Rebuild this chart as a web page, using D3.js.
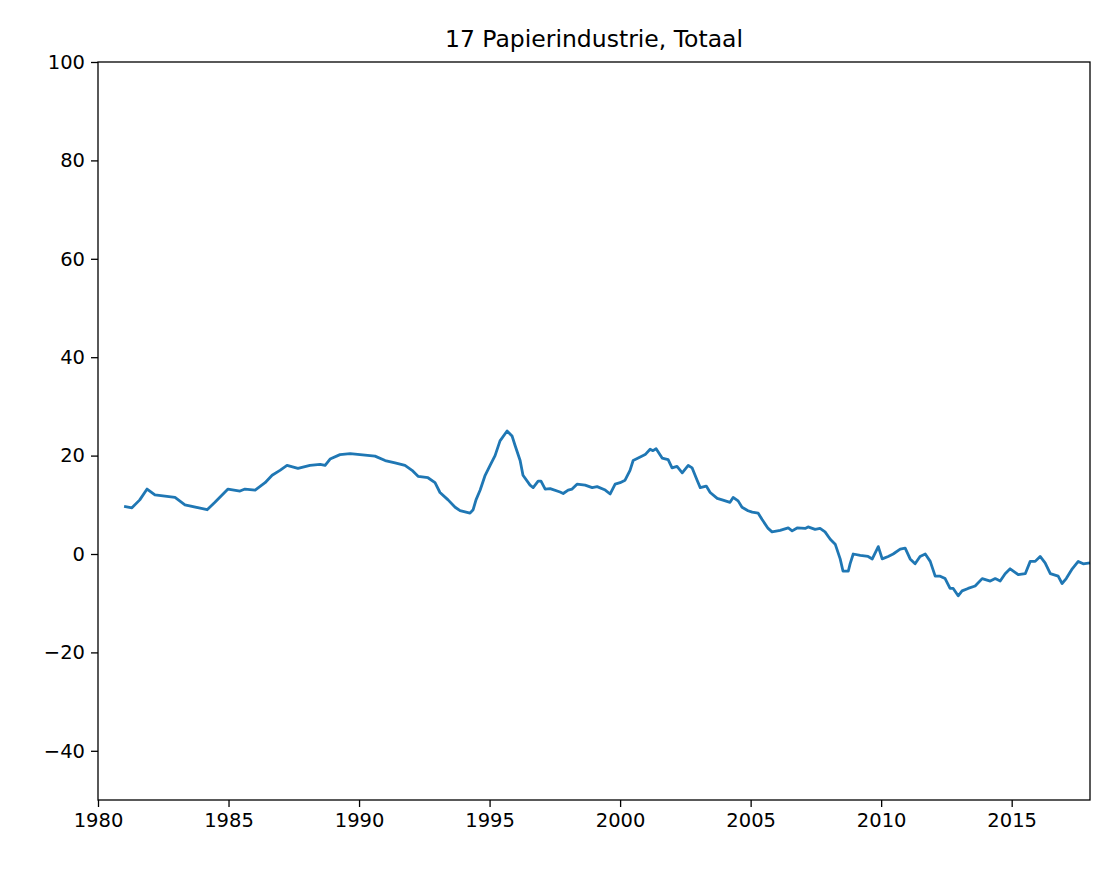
<!DOCTYPE html>
<html>
<head>
<meta charset="utf-8">
<script src="https://cdn.jsdelivr.net/npm/d3@7"></script>
<style>
  body { margin: 0; background: #fff; }
  text { font-family: "DejaVu Sans", sans-serif; }
</style>
</head>
<body>
<svg id="chart"></svg>
<script>
const title = "17 Papierindustrie, Totaal";
const xTicks = [1980, 1985, 1990, 1995, 2000, 2005, 2010, 2015];
const yTicks = [-40, -20, 0, 20, 40, 60, 80, 100];

const years = [1981.0,1981.3,1981.6,1981.88,1982.18,1982.95,1983.33,1984.18,1984.48,1984.98,1985.44,1985.63,1986.02,1986.4,1986.67,1986.97,1987.24,1987.66,1988.12,1988.51,1988.7,1988.89,1989.27,1989.66,1990.23,1990.61,1991.0,1991.38,1991.76,1992.03,1992.26,1992.64,1992.91,1993.1,1993.41,1993.68,1993.87,1994.25,1994.37,1994.48,1994.64,1994.83,1995.02,1995.21,1995.4,1995.67,1995.86,1995.98,1996.17,1996.28,1996.55,1996.67,1996.86,1996.97,1997.13,1997.32,1997.7,1997.82,1998.01,1998.16,1998.35,1998.66,1998.93,1999.12,1999.43,1999.62,1999.81,2000.0,2000.19,2000.38,2000.5,2000.77,2000.96,2001.15,2001.26,2001.38,2001.61,2001.84,2001.99,2002.18,2002.38,2002.61,2002.76,2002.95,2003.07,2003.3,2003.45,2003.72,2003.91,2004.21,2004.33,2004.52,2004.67,2004.9,2005.06,2005.29,2005.44,2005.67,2005.82,2006.13,2006.44,2006.59,2006.78,2007.09,2007.2,2007.47,2007.66,2007.85,2008.05,2008.24,2008.43,2008.54,2008.74,2008.81,2008.93,2009.2,2009.5,2009.66,2009.89,2010.04,2010.27,2010.46,2010.73,2010.92,2011.11,2011.3,2011.49,2011.69,2011.88,2012.07,2012.26,2012.45,2012.64,2012.76,2012.95,2013.1,2013.33,2013.6,2013.87,2014.18,2014.37,2014.56,2014.75,2014.94,2015.25,2015.52,2015.71,2015.9,2016.09,2016.28,2016.48,2016.78,2016.93,2017.09,2017.32,2017.55,2017.74,2018.0];
const values = [9.7,9.4,11.0,13.2,12.0,11.5,10.0,9.0,10.5,13.2,12.8,13.2,13.0,14.5,16.0,17.0,18.0,17.4,18.0,18.2,18.0,19.3,20.2,20.4,20.1,19.9,19.0,18.5,18.0,17.0,15.8,15.5,14.5,12.5,11.0,9.5,8.8,8.3,9.0,11.0,13.0,16.0,18.0,20.0,23.0,25.0,24.0,22.0,19.0,16.0,14.0,13.5,14.8,14.8,13.2,13.3,12.6,12.3,13.0,13.2,14.2,14.0,13.5,13.7,13.0,12.2,14.2,14.5,15.0,17.0,19.0,19.7,20.2,21.3,21.0,21.4,19.5,19.2,17.5,17.8,16.5,18.0,17.5,15.0,13.5,13.8,12.5,11.3,11.0,10.5,11.5,10.8,9.5,8.8,8.5,8.3,7.0,5.2,4.5,4.8,5.3,4.7,5.3,5.2,5.5,5.0,5.2,4.5,3.0,2.0,-1.0,-3.5,-3.5,-2.0,0.0,-0.3,-0.5,-1.0,1.5,-1.0,-0.5,0.0,1.0,1.2,-1.0,-2.0,-0.5,0.0,-1.5,-4.5,-4.5,-5.0,-7.0,-7.0,-8.5,-7.5,-7.0,-6.5,-5.0,-5.5,-5.0,-5.5,-4.0,-3.0,-4.2,-4.0,-1.5,-1.5,-0.5,-1.8,-4.0,-4.5,-6.0,-5.0,-3.0,-1.5,-2.0,-1.8];

const width = 1113, height = 869;
const margin = { top: 62, right: 23, bottom: 69, left: 98 };

const svg = d3.select("#chart").attr("width", width).attr("height", height);

const x = d3.scaleLinear().domain([1980, 2018]).range([margin.left, width - margin.right]);
const y = d3.scaleLinear().domain([-50, 100]).range([height - margin.bottom, margin.top]);

const xAxis = svg.append("g")
  .attr("transform", `translate(0,${height - margin.bottom})`)
  .call(d3.axisBottom(x).tickValues(xTicks).tickFormat(d3.format("d")).tickSizeOuter(0).tickSize(7).tickPadding(6));
const yAxis = svg.append("g")
  .attr("transform", `translate(${margin.left},0)`)
  .call(d3.axisLeft(y).tickValues(yTicks).tickFormat(d => d < 0 ? "\u2212" + Math.abs(d) : d).tickSizeOuter(0).tickSize(7).tickPadding(6));
[xAxis, yAxis].forEach(a => {
  a.select(".domain").remove();
  a.selectAll("text").style("font-size", "19.5px").attr("fill", "#000");
  a.selectAll("line").attr("stroke", "#000").attr("stroke-width", 1.3);
});

svg.append("path")
  .datum(years.map((yr, i) => [yr, values[i]]))
  .attr("fill", "none")
  .attr("stroke", "#1f77b4")
  .attr("stroke-width", 2.8)
  .attr("stroke-linejoin", "round")
  .attr("d", d3.line().x(d => x(d[0])).y(d => y(d[1])));

svg.append("rect")
  .attr("x", margin.left).attr("y", margin.top)
  .attr("width", width - margin.left - margin.right)
  .attr("height", height - margin.top - margin.bottom)
  .attr("fill", "none").attr("stroke", "#000").attr("stroke-width", 1.3);

svg.append("text")
  .attr("x", (margin.left + width - margin.right) / 2)
  .attr("y", margin.top - 15)
  .attr("text-anchor", "middle")
  .style("font-size", "23.5px")
  .text(title);
</script>
</body>
</html>
